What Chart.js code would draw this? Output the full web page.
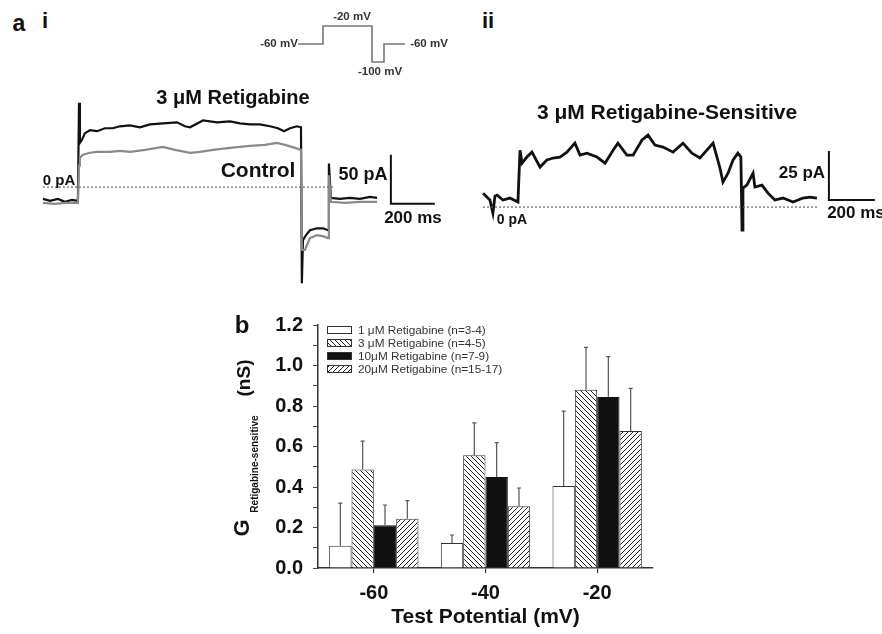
<!DOCTYPE html>
<html>
<head>
<meta charset="utf-8">
<script src="https://cdn.jsdelivr.net/npm/chart.js@4.4.1/dist/chart.umd.min.js"></script>
<style>
  body { margin: 0; background: #fff; }
  #fig { position: relative; width: 882px; height: 634px; overflow: hidden; font-family: "Liberation Sans", Arial, sans-serif; }
  canvas { position: absolute; }
  .lbl { position: absolute; white-space: nowrap; font-weight: bold; color: #111; transform: translate(-50%, -50%); line-height: 1; }
  .rot { transform: translate(-50%, -50%) rotate(-90deg); }
</style>
</head>
<body>
<div id="fig">
  <canvas id="protocol" width="125" height="60" style="left:290px;top:15px"></canvas>
  <canvas id="traceI" width="420" height="205" style="left:30px;top:90px"></canvas>
  <canvas id="traceII" width="412" height="170" style="left:470px;top:90px"></canvas>
  <canvas id="bars" width="682" height="334" style="left:200px;top:300px"></canvas>

  <div class="lbl" style="left:19px;top:23px;font-size:23px">a</div>
  <div class="lbl" style="left:45px;top:21px;font-size:22px">i</div>
  <div class="lbl" style="left:488px;top:21px;font-size:22px">ii</div>

  <div class="lbl" style="left:279px;top:44px;font-size:11.5px;color:#333">-60 mV</div>
  <div class="lbl" style="left:352px;top:17px;font-size:11.5px;color:#333">-20 mV</div>
  <div class="lbl" style="left:380px;top:72px;font-size:11.5px;color:#333">-100 mV</div>
  <div class="lbl" style="left:429px;top:44px;font-size:11.5px;color:#333">-60 mV</div>

  <div class="lbl" style="left:233px;top:97px;font-size:20px">3 μM Retigabine</div>
  <div class="lbl" style="left:258px;top:169px;font-size:21px">Control</div>
  <div class="lbl" style="left:59px;top:179px;font-size:15px">0 pA</div>
  <div class="lbl" style="left:363px;top:174px;font-size:18px">50 pA</div>
  <div class="lbl" style="left:413px;top:217px;font-size:17px">200 ms</div>

  <div class="lbl" style="left:667px;top:111px;font-size:21px">3 μM Retigabine-Sensitive</div>
  <div class="lbl" style="left:802px;top:172px;font-size:17px">25 pA</div>
  <div class="lbl" style="left:856px;top:212px;font-size:17px">200 ms</div>
  <div class="lbl" style="left:512px;top:219px;font-size:14px">0 pA</div>

  <div class="lbl" style="left:242px;top:325px;font-size:24px">b</div>
  <div class="lbl rot" style="left:242px;top:528px;font-size:22px">G</div>
  <div class="lbl rot" style="left:255px;top:464px;font-size:10px">Retigabine-sensitive</div>
  <div class="lbl rot" style="left:243px;top:378px;font-size:19px">(nS)</div>
</div>
<script>
// panel b: conductance (nS) per test potential
const potentials = ['-60', '-40', '-20'];
const doseLabels = ['1 μM Retigabine (n=3-4)', '3 μM Retigabine (n=4-5)', '10μM Retigabine (n=7-9)', '20μM Retigabine (n=15-17)'];
const g1uM = [0.11, 0.123, 0.405];
const g3uM = [0.487, 0.557, 0.88];
const g10uM = [0.211, 0.449, 0.844];
const g20uM = [0.243, 0.305, 0.677];
const err1uM = [0.21, 0.04, 0.37];
const err3uM = [0.14, 0.16, 0.21];
const err10uM = [0.10, 0.17, 0.20];
const err20uM = [0.09, 0.09, 0.21];
const yTicks = [0, 1.2, 0.1];

// voltage protocol [ms, mV]
const protocol = [[0, -60], [500, -60], [500, -20], [1480, -20], [1480, -100], [1720, -100], [1720, -60], [2140, -60]];

// panel a-i currents [ms, pA]
const retigabineI = [[0, -12], [32, -14], [68, -12], [100, -15], [132, -13], [159, -14], [164, 86], [168, 45], [177, 48],
  [191, 55], [214, 58], [246, 57], [282, 60], [318, 60], [350, 62], [396, 63], [441, 61], [487, 64], [546, 65], [610, 66],
  [646, 62], [669, 61], [728, 68], [792, 66], [851, 67], [896, 65], [942, 64], [987, 64], [1033, 62], [1069, 60],
  [1097, 57], [1124, 60], [1156, 62], [1174, 61], [1178, -98], [1183, -54], [1197, -49], [1215, -44], [1247, -42],
  [1274, -42], [1297, -44], [1301, 24], [1310, -11], [1351, -12], [1397, -11], [1442, -12], [1488, -10], [1520, -11]];
const controlI = [[0, -16], [55, -17], [100, -16], [159, -16], [164, 22], [168, 30], [182, 33], [214, 35], [246, 36],
  [305, 36], [350, 37], [396, 36], [464, 38], [546, 41], [601, 38], [669, 35], [714, 36], [774, 38], [851, 40],
  [942, 42], [1010, 43], [1065, 45], [1101, 43], [1147, 40], [1174, 38], [1178, -64], [1192, -64], [1215, -52],
  [1247, -49], [1274, -50], [1297, -52], [1301, 12], [1310, -15], [1374, -16], [1442, -15], [1520, -15]];

// panel a-ii retigabine-sensitive current [ms, pA]
const sensitiveI = [[0, 7.1], [30, 3.6], [43, -3.1], [52, 5.6], [61, 6.1], [87, 3.6], [117, 4.6], [152, 2.6], [161, 29],
  [170, 22.4], [191, 25.5], [213, 28], [248, 20.4], [278, 24], [305, 25], [335, 25.5], [365, 28], [400, 32.6],
  [422, 26.5], [452, 27.5], [496, 25.5], [531, 22.4], [566, 29], [587, 32.6], [626, 26.5], [653, 26.5], [692, 34.2],
  [718, 36.7], [748, 31.6], [783, 30.6], [827, 28], [870, 32.6], [909, 27.5], [944, 25], [974, 29], [1001, 32.6],
  [1031, 19.9], [1044, 12.7], [1066, 17.3], [1088, 24], [1109, 27.5], [1122, 25.5], [1127, -11.7], [1131, 9.7],
  [1148, 11.2], [1175, 17.3], [1183, 10.2], [1214, 11.2], [1240, 7.1], [1270, 3.6], [1305, 4.6], [1349, 2.6],
  [1392, 4.6], [1422, 5.1], [1453, 4.6]];

Chart.defaults.font.family = '"Liberation Sans", Arial, sans-serif';
Chart.defaults.animation = false;

const pts = arr => arr.map(p => ({x: p[0], y: p[1]}));

function traceChart(id, xr, yr, datasets) {
  return new Chart(document.getElementById(id), {
    type: 'scatter',
    data: {datasets},
    options: {
      responsive: false,
      layout: {padding: 0},
      elements: {point: {radius: 0}, line: {tension: 0}},
      plugins: {legend: {display: false}, tooltip: {enabled: false}},
      scales: {
        x: {display: false, min: xr[0], max: xr[1]},
        y: {display: false, min: yr[0], max: yr[1]}
      }
    }
  });
}

const line = (data, color, width, dash) => ({data: pts(data), showLine: true, borderColor: color,
  borderWidth: width, borderDash: dash || [], fill: false});

traceChart('protocol', [-160, 2340], [-128.9, 4.4], [line(protocol, '#777', 1.6)]);

traceChart('traceI', [-59, 1852], [-110, 99], [
  line([[0, 0], [1320, 0]], '#666', 1.2, [2, 2]),
  line(controlI, '#8a8a8a', 2.2),
  line(retigabineI, '#111', 2.2),
  line([[1583, 33], [1583, -17], [1783, -17]], '#111', 2)
]);

traceChart('traceII', [-56.6, 1736], [-27, 59.7], [
  line([[0, 0], [1453, 0]], '#666', 1.2, [2, 2]),
  line(sensitiveI, '#111', 2.8),
  line([[1505, 28.6], [1505, 3.6], [1705, 3.6]], '#111', 2)
]);

function hatch(dir) {
  const c = document.createElement('canvas');
  c.width = c.height = 5;
  const g = c.getContext('2d');
  g.fillStyle = '#fff';
  g.fillRect(0, 0, 5, 5);
  g.strokeStyle = '#222';
  g.lineWidth = 1;
  g.beginPath();
  if (dir === 'back') {
    g.moveTo(-1, -1); g.lineTo(6, 6);
    g.moveTo(-1, 4); g.lineTo(1, 6);
    g.moveTo(4, -1); g.lineTo(6, 1);
  } else {
    g.moveTo(-1, 6); g.lineTo(6, -1);
    g.moveTo(-1, 1); g.lineTo(1, -1);
    g.moveTo(4, 6); g.lineTo(6, 4);
  }
  g.stroke();
  return g.createPattern(c, 'repeat');
}

const errorBars = {
  id: 'errorBars',
  afterDatasetsDraw(chart) {
    const {ctx, scales: {y}} = chart;
    ctx.save();
    ctx.strokeStyle = '#555';
    ctx.lineWidth = 1.2;
    chart.data.datasets.forEach((ds, i) => {
      chart.getDatasetMeta(i).data.forEach((bar, j) => {
        const top = y.getPixelForValue(ds.data[j] + ds.errors[j]);
        ctx.beginPath();
        ctx.moveTo(bar.x, bar.y);
        ctx.lineTo(bar.x, top);
        ctx.moveTo(bar.x - 2, top);
        ctx.lineTo(bar.x + 2, top);
        ctx.stroke();
      });
    });
    ctx.restore();
  }
};

// small legend in the top-left corner of the plot
const boxLegend = {
  id: 'boxLegend',
  afterDraw(chart) {
    const {ctx, chartArea} = chart;
    ctx.save();
    ctx.font = '11.8px "Liberation Sans", Arial, sans-serif';
    ctx.textBaseline = 'middle';
    chart.data.datasets.forEach((ds, i) => {
      const x = chartArea.left + 9, y = chartArea.top + 5 + i * 13;
      ctx.fillStyle = ds.backgroundColor;
      ctx.fillRect(x, y - 4, 25, 8);
      ctx.strokeStyle = '#333';
      ctx.lineWidth = 1;
      ctx.strokeRect(x + 0.5, y - 3.5, 24, 7);
      ctx.fillStyle = '#333';
      ctx.fillText(ds.label, x + 31, y + 0.5);
    });
    ctx.restore();
  }
};

new Chart(document.getElementById('bars'), {
  type: 'bar',
  data: {
    labels: potentials,
    datasets: [
      {label: doseLabels[0], data: g1uM, errors: err1uM, backgroundColor: '#fff', borderColor: '#333'},
      {label: doseLabels[1], data: g3uM, errors: err3uM, backgroundColor: hatch('back'), borderColor: '#333'},
      {label: doseLabels[2], data: g10uM, errors: err10uM, backgroundColor: '#111', borderColor: '#111'},
      {label: doseLabels[3], data: g20uM, errors: err20uM, backgroundColor: hatch('fwd'), borderColor: '#333'}
    ]
  },
  options: {
    responsive: false,
    layout: {padding: {top: 25, right: 229, left: 0, bottom: 0}},
    datasets: {bar: {categoryPercentage: 0.8, barPercentage: 1, borderWidth: 1}},
    plugins: {legend: {display: false}, tooltip: {enabled: false}},
    scales: {
      x: {
        afterFit: s => { s.height = 66; },
        grid: {display: true, drawOnChartArea: false, offset: false, tickLength: 5, color: '#333', lineWidth: 1.2},
        border: {color: '#333', width: 1.5},
        ticks: {color: '#111', padding: 8, font: {size: 20, weight: 'bold'}},
        title: {display: true, text: 'Test Potential (mV)', color: '#111', padding: {top: 0, bottom: 4},
          font: {size: 21, weight: 'bold'}}
      },
      y: {
        min: yTicks[0], max: yTicks[1],
        afterFit: s => { s.width = 118; },
        grid: {display: true, drawOnChartArea: false, tickLength: 5, color: '#444', lineWidth: 1},
        border: {color: '#333', width: 1.5},
        ticks: {stepSize: yTicks[2], autoSkip: false, color: '#111', padding: 10, font: {size: 20, weight: 'bold'},
          callback: (v, i) => i % 2 === 0 ? v.toFixed(1) : ''}
      }
    }
  },
  plugins: [errorBars, boxLegend]
});
</script>
</body>
</html>
